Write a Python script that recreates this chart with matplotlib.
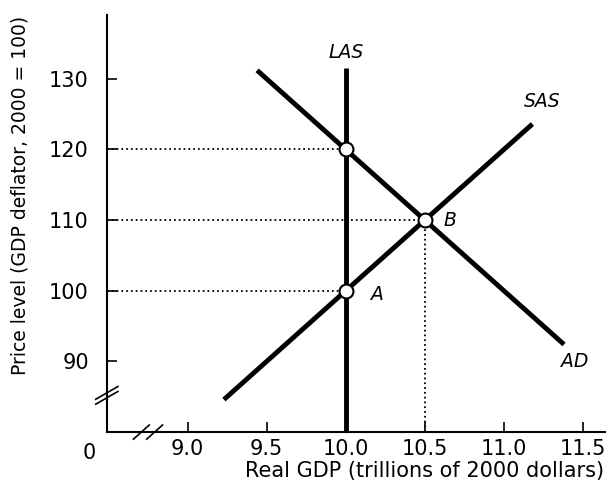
import matplotlib.pyplot as plt

# curve end points
las_x = [10.0, 10.0]
las_y = [80.0, 131.6]
ad_x = [9.44, 11.38]
ad_y = [131.2, 92.4]
sas_x = [9.23, 11.18]
sas_y = [84.6, 123.6]

# equilibrium points
pt_x = [10.0, 10.0, 10.5]
pt_y = [120, 100, 110]

xticks = [9.0, 9.5, 10.0, 10.5, 11.0, 11.5]
yticks = [90, 100, 110, 120, 130]

plt.rcParams['font.family'] = 'DejaVu Sans'

fig = plt.figure(figsize=(6.07, 4.91), dpi=100)
ax = fig.add_axes([0.176, 0.12, 0.821, 0.849])
ax.set_xlim(8.49, 11.64)
ax.set_ylim(80, 139)

for s in ['top', 'right']:
    ax.spines[s].set_visible(False)
for s in ['left', 'bottom']:
    ax.spines[s].set_linewidth(1.5)

ax.set_xticks(xticks)
ax.set_xticklabels(['%.1f' % v for v in xticks])
ax.set_yticks(yticks)
ax.tick_params(direction='in', length=7, width=1.2, labelsize=15)
ax.tick_params(axis='y', pad=13)
ax.tick_params(axis='x', pad=5)

# dotted guide lines
for x, y in zip(pt_x, pt_y):
    ax.plot([8.49, x], [y, y], ':', color='black', lw=1.3)
ax.plot([10.5, 10.5], [80, 110], ':', color='black', lw=1.3)

ax.plot(las_x, las_y, color='black', lw=3.5, solid_capstyle='butt')
ax.plot(ad_x, ad_y, color='black', lw=3.5, solid_capstyle='butt')
ax.plot(sas_x, sas_y, color='black', lw=3.5, solid_capstyle='butt')

ax.plot(pt_x, pt_y, 'o', ms=10, mfc='white', mec='black', mew=1.5, zorder=5)

ax.text(10.0, 132.4, 'LAS', style='italic', fontsize=13.5, ha='center', va='bottom')
ax.text(11.24, 125.5, 'SAS', style='italic', fontsize=13.5, ha='center', va='bottom')
ax.text(11.45, 90, 'AD', style='italic', fontsize=13.5, ha='center', va='center')
ax.text(10.66, 110, 'B', style='italic', fontsize=13.5, ha='center', va='center')
ax.text(10.2, 99.5, 'A', style='italic', fontsize=13.5, ha='center', va='center')

ax.text(8.38, 78.5, '0', fontsize=15, ha='center', va='top', clip_on=False)

# axis break marks
for d in [-0.35, 0.35]:
    ax.plot([8.42, 8.56], [85.2 + d - 0.9, 85.2 + d + 0.9], color='black', lw=1.2, clip_on=False)
    ax.plot([8.70 + d * 0.12, 8.80 + d * 0.12], [79.0, 81.0], color='black', lw=1.2, clip_on=False)

ax.set_xlabel('Real GDP (trillions of 2000 dollars)', fontsize=15)
ax.set_ylabel('Price level (GDP deflator, 2000 = 100)', fontsize=13.5)
ax.xaxis.set_label_coords(0.637, -0.07)
ax.yaxis.set_label_coords(-0.155, 0.568)

fig.savefig('out.png', dpi=100)
